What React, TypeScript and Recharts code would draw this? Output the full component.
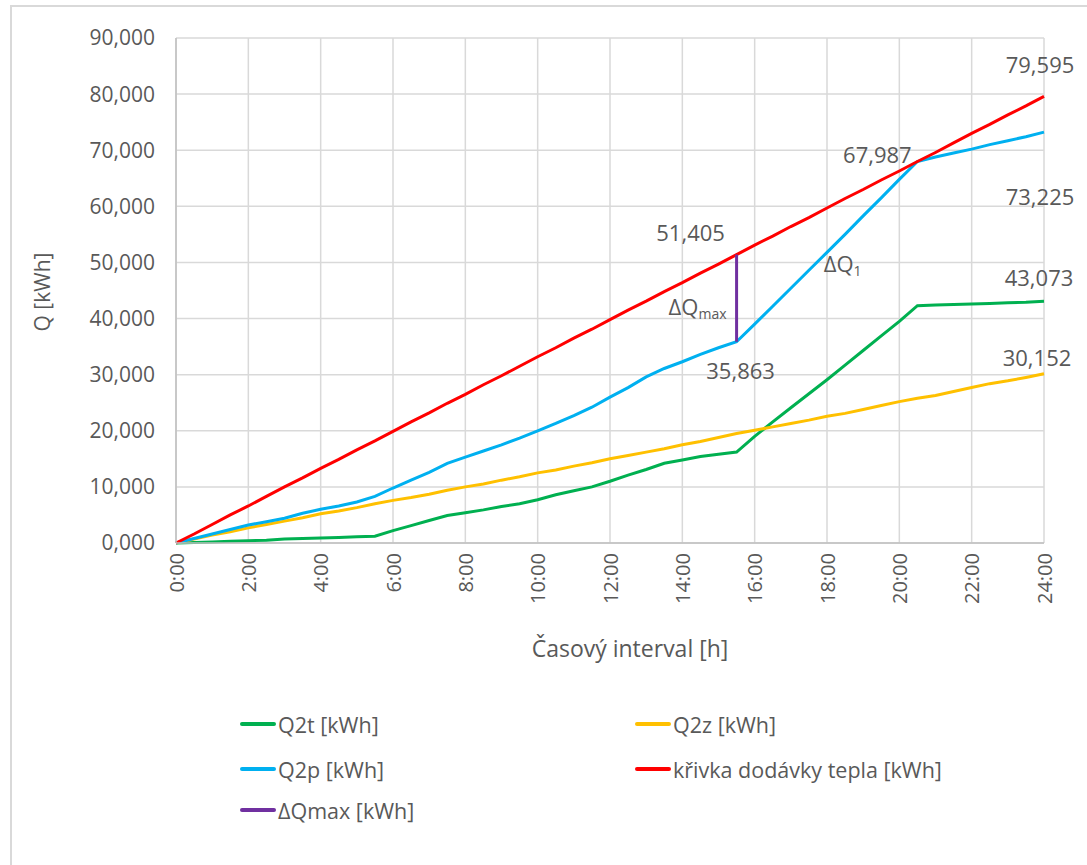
import React from "react";
import {
  CartesianGrid,
  Label,
  Line,
  LineChart,
  ReferenceDot,
  XAxis,
  YAxis,
} from "recharts";

// time axis, hours
const hours = [
  0, 0.5, 1, 1.5, 2, 2.5, 3, 3.5, 4, 4.5, 5, 5.5, 6, 6.5, 7, 7.5, 8, 8.5, 9,
  9.5, 10, 10.5, 11, 11.5, 12, 12.5, 13, 13.5, 14, 14.5, 15, 15.5, 16, 16.5,
  17, 17.5, 18, 18.5, 19, 19.5, 20, 20.5, 21, 21.5, 22, 22.5, 23, 23.5, 24,
];
const hourTicks = [0, 2, 4, 6, 8, 10, 12, 14, 16, 18, 20, 22, 24];
const qTicks = [0, 10, 20, 30, 40, 50, 60, 70, 80, 90];

const q2t = [
  0, 0.1, 0.2, 0.3, 0.4, 0.5, 0.7, 0.8, 0.9, 1.0, 1.1, 1.2, 2.2, 3.1, 4.0, 4.9,
  5.4, 5.9, 6.5, 7.0, 7.7, 8.6, 9.3, 10.0, 11.0, 12.1, 13.1, 14.2, 14.8, 15.4,
  15.8, 16.2, 19.0, 21.6, 24.1, 26.6, 29.1, 31.7, 34.3, 36.9, 39.5, 42.3, 42.4,
  42.5, 42.6, 42.7, 42.8, 42.9, 43.073,
];
const q2z = [
  0, 0.7, 1.4, 2.0, 2.7, 3.3, 3.9, 4.5, 5.2, 5.7, 6.3, 7.0, 7.6, 8.1, 8.7, 9.4,
  10.0, 10.5, 11.2, 11.8, 12.5, 13.0, 13.7, 14.3, 15.0, 15.6, 16.2, 16.8, 17.5,
  18.1, 18.8, 19.5, 20.1, 20.7, 21.3, 21.9, 22.6, 23.1, 23.8, 24.5, 25.2, 25.8,
  26.3, 27.0, 27.7, 28.4, 28.9, 29.5, 30.152,
];
const q2p = [
  0, 0.8, 1.6, 2.4, 3.2, 3.8, 4.4, 5.3, 6.0, 6.6, 7.3, 8.3, 9.8, 11.2, 12.6,
  14.2, 15.3, 16.4, 17.5, 18.7, 20.0, 21.3, 22.7, 24.2, 26.0, 27.7, 29.6, 31.1,
  32.3, 33.6, 34.8, 35.863, 39.0, 42.2, 45.4, 48.6, 51.8, 55.0, 58.3, 61.5,
  64.8, 67.987, 68.8, 69.5, 70.2, 71.0, 71.7, 72.4, 73.225,
];
const supply = [
  0, 1.6, 3.3, 5.0, 6.6, 8.3, 10.0, 11.6, 13.3, 14.9, 16.6, 18.2, 19.9, 21.6,
  23.2, 24.9, 26.5, 28.2, 29.8, 31.5, 33.2, 34.8, 36.5, 38.1, 39.8, 41.5, 43.1,
  44.8, 46.4, 48.1, 49.7, 51.405, 53.1, 54.7, 56.4, 58.0, 59.7, 61.4, 63.0,
  64.7, 66.3, 67.987, 69.6, 71.3, 73.0, 74.6, 76.3, 77.9, 79.595,
];
const deltaMax = [
  { h: 15.5, dq: 35.863 },
  { h: 15.5, dq: 51.405 },
];

const rows = hours.map((h, i) => ({
  h,
  q2t: q2t[i],
  q2z: q2z[i],
  q2p: q2p[i],
  supply: supply[i],
}));

const FONT = "'Open Sans', sans-serif";
const TEXT = "#595959";
const GRID = "#d9d9d9";

const COLORS = {
  q2t: "#00b050",
  q2z: "#ffc000",
  q2p: "#00b0f0",
  supply: "#ff0000",
  dq: "#7030a0",
};

const fmt = (v: number) => v.toFixed(3).replace(".", ",");

const TimeTick = ({ x, y, payload }: any) => (
  <text
    x={x}
    y={y}
    transform={`rotate(-90 ${x} ${y})`}
    textAnchor="end"
    dominantBaseline="central"
    fill={TEXT}
    fontSize={20}
    fontFamily={FONT}
  >
    {`${payload.value}:00`}
  </text>
);

function callout(text: string, dx: number, dy: number, sub?: string) {
  return (props: any) => {
    const vb = props.viewBox || {};
    const x = (vb.x ?? 0) + (vb.width ?? 0) / 2 + dx;
    const y = (vb.y ?? 0) + (vb.height ?? 0) / 2 + dy;
    return (
      <text
        x={x}
        y={y}
        textAnchor="middle"
        dominantBaseline="central"
        fill={TEXT}
        fontSize={22}
        fontFamily={FONT}
      >
        {text}
        {sub && (
          <tspan fontSize={14} dy={7}>
            {sub}
          </tspan>
        )}
      </text>
    );
  };
}

const legendItems = [
  { key: "q2t", name: "Q2t [kWh]", col: 0, row: 0 },
  { key: "q2z", name: "Q2z [kWh]", col: 1, row: 0 },
  { key: "q2p", name: "Q2p [kWh]", col: 0, row: 1 },
  { key: "supply", name: "křivka dodávky tepla [kWh]", col: 1, row: 1 },
  { key: "dq", name: "ΔQmax [kWh]", col: 0, row: 2 },
];

export default function App() {
  return (
    <div
      style={{
        position: "absolute",
        left: 0,
        top: 0,
        width: 1087,
        height: 865,
        overflow: "hidden",
        background: "#fff",
        fontFamily: FONT,
      }}
    >
      <div
        style={{
          position: "absolute",
          left: 10,
          top: 5,
          width: 1200,
          height: 1000,
          borderLeft: `2px solid ${GRID}`,
          borderTop: `2px solid ${GRID}`,
        }}
      />
      <div style={{ position: "absolute", left: 0, top: 0 }}>
        <LineChart
          width={1087}
          height={865}
          data={rows}
          margin={{ top: 38, right: 43, left: 76, bottom: 222 }}
        >
          <CartesianGrid stroke={GRID} strokeWidth={1.5} />
          <XAxis
            dataKey="h"
            type="number"
            domain={[0, 24]}
            ticks={hourTicks}
            interval={0}
            height={100}
            tick={<TimeTick />}
            tickLine={false}
            tickMargin={4}
            axisLine={{ stroke: "#bfbfbf", strokeWidth: 1.5 }}
          >
            <Label
              content={() => (
                <text
                  x={630}
                  y={648}
                  textAnchor="middle"
                  dominantBaseline="central"
                  fill={TEXT}
                  fontSize={23}
                  fontFamily={FONT}
                >
                  Časový interval [h]
                </text>
              )}
            />
          </XAxis>
          <YAxis
            type="number"
            domain={[0, 90]}
            ticks={qTicks}
            interval={0}
            width={100}
            tickFormatter={fmt}
            tick={{ fill: TEXT, fontSize: 21, fontFamily: FONT }}
            tickLine={false}
            tickMargin={15}
            axisLine={{ stroke: "#bfbfbf", strokeWidth: 1.5 }}
          >
            <Label
              content={() => (
                <text
                  x={42}
                  y={292}
                  transform="rotate(-90 42 292)"
                  textAnchor="middle"
                  dominantBaseline="central"
                  fill={TEXT}
                  fontSize={21}
                  fontFamily={FONT}
                >
                  Q [kWh]
                </text>
              )}
            />
          </YAxis>
          <Line
            dataKey="q2t"
            name="Q2t [kWh]"
            stroke={COLORS.q2t}
            strokeWidth={3}
            dot={false}
            isAnimationActive={false}
          />
          <Line
            dataKey="q2z"
            name="Q2z [kWh]"
            stroke={COLORS.q2z}
            strokeWidth={3}
            dot={false}
            isAnimationActive={false}
          />
          <Line
            dataKey="q2p"
            name="Q2p [kWh]"
            stroke={COLORS.q2p}
            strokeWidth={3}
            dot={false}
            isAnimationActive={false}
          />
          <Line
            dataKey="supply"
            name="křivka dodávky tepla [kWh]"
            stroke={COLORS.supply}
            strokeWidth={3}
            dot={false}
            isAnimationActive={false}
          />
          <Line
            data={deltaMax}
            dataKey="dq"
            name="ΔQmax [kWh]"
            stroke={COLORS.dq}
            strokeWidth={3}
            dot={false}
            isAnimationActive={false}
          />
          <ReferenceDot x={24} y={79.595} r={0} ifOverflow="visible" label={callout(fmt(79.595), -4, -32)} />
          <ReferenceDot x={24} y={73.225} r={0} ifOverflow="visible" label={callout(fmt(73.225), -4, 64)} />
          <ReferenceDot x={20.5} y={67.987} r={0} ifOverflow="visible" label={callout(fmt(67.987), -40, -8)} />
          <ReferenceDot x={15.5} y={51.405} r={0} ifOverflow="visible" label={callout(fmt(51.405), -46, -23)} />
          <ReferenceDot x={15.5} y={35.863} r={0} ifOverflow="visible" label={callout(fmt(35.863), 4, 28)} />
          <ReferenceDot x={24} y={43.073} r={0} ifOverflow="visible" label={callout(fmt(43.073), -5, -24)} />
          <ReferenceDot x={24} y={30.152} r={0} ifOverflow="visible" label={callout(fmt(30.152), -7, -17)} />
          <ReferenceDot x={15.5} y={42.2} r={0} ifOverflow="visible" label={callout("ΔQ", -39, 0, "max")} />
          <ReferenceDot x={18.1} y={49.9} r={0} ifOverflow="visible" label={callout("ΔQ", 12, 0, "1")} />
        </LineChart>
      </div>
      {legendItems.map((it) => (
        <div
          key={it.key}
          style={{
            position: "absolute",
            left: it.col === 0 ? 240 : 635,
            top: [724, 769, 810][it.row] - 16,
            height: 32,
            display: "flex",
            alignItems: "center",
            color: TEXT,
            fontSize: 21.5,
            whiteSpace: "nowrap",
          }}
        >
          <span
            style={{
              display: "inline-block",
              width: 36,
              height: 3.5,
              borderRadius: 2,
              background: COLORS[it.key as keyof typeof COLORS],
              marginRight: 2,
            }}
          />
          {it.name}
        </div>
      ))}
    </div>
  );
}
